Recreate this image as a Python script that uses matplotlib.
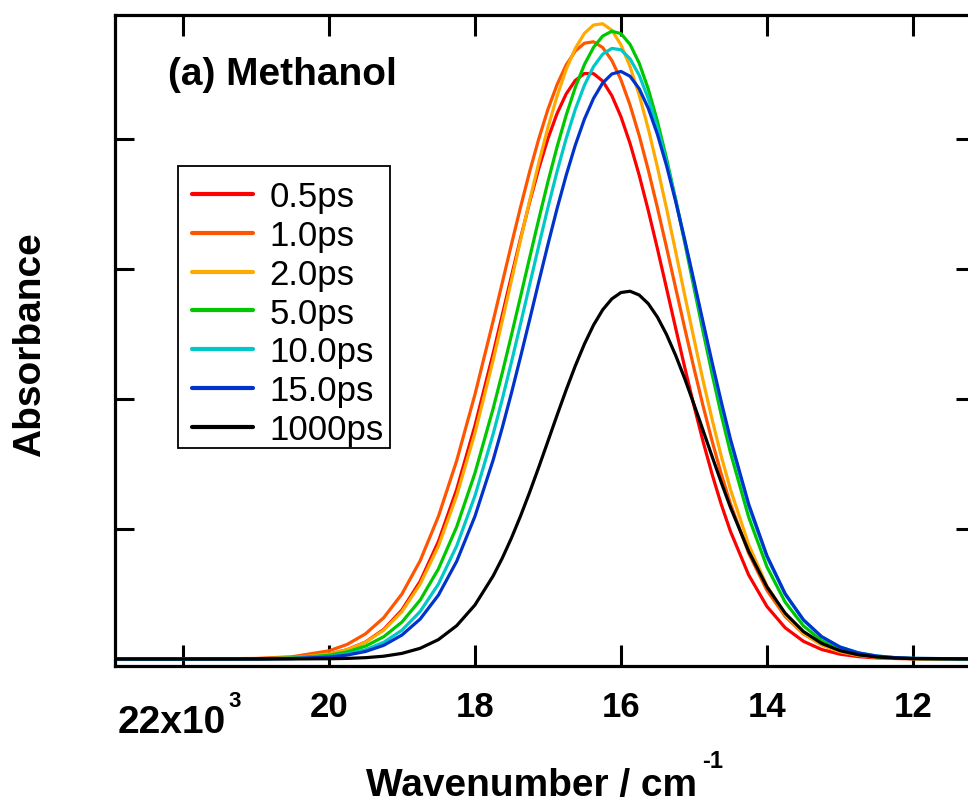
import matplotlib
matplotlib.use("Agg")
import matplotlib.pyplot as plt
from matplotlib.patches import Rectangle

plt.rcParams['font.family'] = ['Liberation Sans', 'DejaVu Sans']

# ---- data ----
wavenumber = [23000, 22000, 21000, 20500, 20000, 19750, 19500, 19250, 19000, 18750,
              18500, 18250, 18000, 17750, 17625, 17500, 17375, 17250, 17125, 17000,
              16875, 16750, 16625, 16500, 16375, 16250, 16125, 16000, 15875, 15750,
              15625, 15500, 15375, 15250, 15125, 15000, 14875, 14750, 14625, 14500,
              14250, 14000, 13750, 13500, 13250, 13000, 12750, 12500, 12250, 12000,
              11000]

abs_0p5ps = [0.0, 0.0, 0.0017, 0.0088, 0.037, 0.0713, 0.130, 0.227, 0.377, 0.598,
             0.904, 1.304, 1.794, 2.352, 2.647, 2.945, 3.236, 3.515, 3.773, 4.003,
             4.196, 4.347, 4.451, 4.504, 4.503, 4.446, 4.334, 4.172, 3.966, 3.722,
             3.449, 3.156, 2.851, 2.544, 2.241, 1.949, 1.673, 1.419, 1.188, 0.982,
             0.646, 0.404, 0.240, 0.136, 0.0729, 0.037, 0.0181, 0.0083, 0.0037, 0.0015,
             0.0]
abs_1p0ps = [0.0, 0.0001, 0.0040, 0.0173, 0.0628, 0.112, 0.193, 0.317, 0.500, 0.756,
             1.097, 1.525, 2.034, 2.601, 2.895, 3.189, 3.476, 3.750, 4.002, 4.228,
             4.418, 4.570, 4.677, 4.737, 4.748, 4.704, 4.605, 4.456, 4.261, 4.027,
             3.761, 3.471, 3.165, 2.853, 2.542, 2.238, 1.947, 1.674, 1.422, 1.194,
             0.813, 0.528, 0.327, 0.193, 0.109, 0.058, 0.0299, 0.0146, 0.0068, 0.0030,
             0.0]
abs_2p0ps = [0.0, 0.0, 0.0019, 0.0093, 0.0377, 0.0711, 0.128, 0.221, 0.364, 0.576,
             0.868, 1.256, 1.737, 2.299, 2.601, 2.911, 3.222, 3.527, 3.818, 4.088,
             4.330, 4.535, 4.698, 4.813, 4.877, 4.887, 4.837, 4.725, 4.557, 4.339,
             4.078, 3.783, 3.465, 3.133, 2.796, 2.464, 2.143, 1.840, 1.559, 1.305,
             0.879, 0.562, 0.341, 0.197, 0.108, 0.056, 0.0277, 0.013, 0.0058, 0.0024,
             0.0]
abs_5p0ps = [0.0, 0.0, 0.0015, 0.0071, 0.0289, 0.0544, 0.0985, 0.171, 0.284, 0.453,
             0.693, 1.016, 1.429, 1.927, 2.202, 2.491, 2.788, 3.088, 3.384, 3.671,
             3.939, 4.183, 4.397, 4.573, 4.705, 4.792, 4.829, 4.811, 4.728, 4.584,
             4.384, 4.136, 3.849, 3.534, 3.200, 2.858, 2.519, 2.190, 1.877, 1.588,
             1.091, 0.709, 0.437, 0.255, 0.141, 0.0734, 0.0364, 0.0170, 0.0076, 0.0032,
             0.0]
abs_10p0ps = [0.0, 0.0, 0.0008, 0.0043, 0.019, 0.0375, 0.0708, 0.128, 0.221, 0.365,
              0.576, 0.869, 1.254, 1.731, 1.999, 2.283, 2.578, 2.880, 3.180, 3.473,
              3.750, 4.004, 4.228, 4.414, 4.557, 4.653, 4.697, 4.687, 4.617, 4.491,
              4.311, 4.086, 3.823, 3.531, 3.219, 2.897, 2.574, 2.258, 1.955, 1.671,
              1.174, 0.784, 0.497, 0.299, 0.171, 0.0927, 0.0478, 0.0234, 0.0109, 0.0048,
              0.0001]
abs_15p0ps = [0.0, 0.0, 0.0006, 0.0033, 0.0151, 0.0301, 0.0575, 0.105, 0.184, 0.307,
              0.491, 0.751, 1.097, 1.531, 1.780, 2.045, 2.324, 2.611, 2.902, 3.188,
              3.464, 3.721, 3.953, 4.153, 4.313, 4.431, 4.500, 4.520, 4.483, 4.387,
              4.236, 4.036, 3.795, 3.520, 3.221, 2.909, 2.592, 2.279, 1.977, 1.692,
              1.191, 0.794, 0.502, 0.301, 0.171, 0.092, 0.0470, 0.0227, 0.0104, 0.0045,
              0.0001]
abs_1000ps = [0.0, 0.0, 0.0, 0.0003, 0.0019, 0.0044, 0.010, 0.0213, 0.043, 0.082,
              0.149, 0.256, 0.415, 0.639, 0.776, 0.930, 1.100, 1.283, 1.476, 1.675,
              1.875, 2.070, 2.255, 2.423, 2.569, 2.686, 2.770, 2.819, 2.829, 2.800,
              2.733, 2.630, 2.496, 2.335, 2.155, 1.960, 1.759, 1.556, 1.357, 1.167,
              0.828, 0.555, 0.352, 0.211, 0.120, 0.064, 0.0324, 0.0155, 0.0070, 0.0030,
              0.0]

series_labels = ['0.5ps', '1.0ps', '2.0ps', '5.0ps', '10.0ps', '15.0ps', '1000ps']
series_values = [abs_0p5ps, abs_1p0ps, abs_2p0ps, abs_5p0ps, abs_10p0ps, abs_15p0ps, abs_1000ps]
series_colors = ['#ff0000', '#ff5500', '#ffaa00', '#00c800', '#00c8c8', '#0033cc', '#000000']

xtick_values = [22000, 20000, 18000, 16000, 14000, 12000]
xtick_labels = ['', '20', '18', '16', '14', '12']
ytick_values = [0, 1, 2, 3, 4]

# ---- figure ----
W, H = 968, 803
fig = plt.figure(figsize=(W / 100, H / 100), dpi=100)

def fx(px):
    return px / W

def fy(py):
    return 1 - py / H

ax_left, ax_right, ax_top, ax_bottom = 115, 975, 16, 667
ax = fig.add_axes([fx(ax_left), fy(ax_bottom), (ax_right - ax_left) / W, (ax_bottom - ax_top) / H])

for lab, vals, col in zip(series_labels, series_values, series_colors):
    ax.plot(wavenumber, vals, color=col, lw=2.3, label=lab,
            solid_joinstyle='round', solid_capstyle='round')

ax.set_xlim(22930, 11150)
ax.set_ylim(-0.054, 4.954)

ax.set_xticks(xtick_values)
ax.set_xticklabels(xtick_labels)
ax.set_yticks(ytick_values)
ax.set_yticklabels([])

ax.tick_params(axis='x', which='both', direction='in', top=True, bottom=True,
               length=15, width=2.2, pad=17, labelsize=25)
ax.tick_params(axis='y', which='both', direction='in', left=True, right=True,
               length=14, width=2.2)
for lbl in ax.get_xticklabels():
    lbl.set_fontweight('bold')
for sp in ax.spines.values():
    sp.set_linewidth(2.3)

# special first tick label "22x10^3"
fig.text(fx(171.5), fy(733), '22x10', fontsize=28, fontweight='bold',
         ha='center', va='baseline')
fig.text(fx(228), fy(707), '3', fontsize=16, fontweight='bold',
         ha='left', va='baseline')

# axis labels
fig.text(fx(531), fy(796), 'Wavenumber / cm', fontsize=28, fontweight='bold',
         ha='center', va='baseline')
fig.text(fx(702), fy(768), '-1', fontsize=17, fontweight='bold',
         ha='left', va='baseline')
fig.text(fx(30), fy(345), 'Absorbance', fontsize=28, fontweight='bold',
         rotation=90, ha='center', va='center')

# panel title
fig.text(fx(168), fy(85), '(a) Methanol', fontsize=28, fontweight='bold',
         ha='left', va='baseline')

leg = ax.legend(loc='upper left', bbox_to_anchor=(fx(178), fy(167)),
                bbox_transform=fig.transFigure, borderaxespad=0, fontsize=25,
                frameon=False, handlelength=1.75,
                handletextpad=0.48, labelspacing=0.17, borderpad=0.4)
for h in leg.get_lines():
    h.set_linewidth(3)

# legend frame
fig.patches.append(Rectangle((fx(178), fy(449)), fx(390) - fx(178), fy(167) - fy(449),
                             transform=fig.transFigure, fill=False,
                             edgecolor='black', linewidth=1.3, zorder=5))

fig.savefig('out.png', dpi=100)
